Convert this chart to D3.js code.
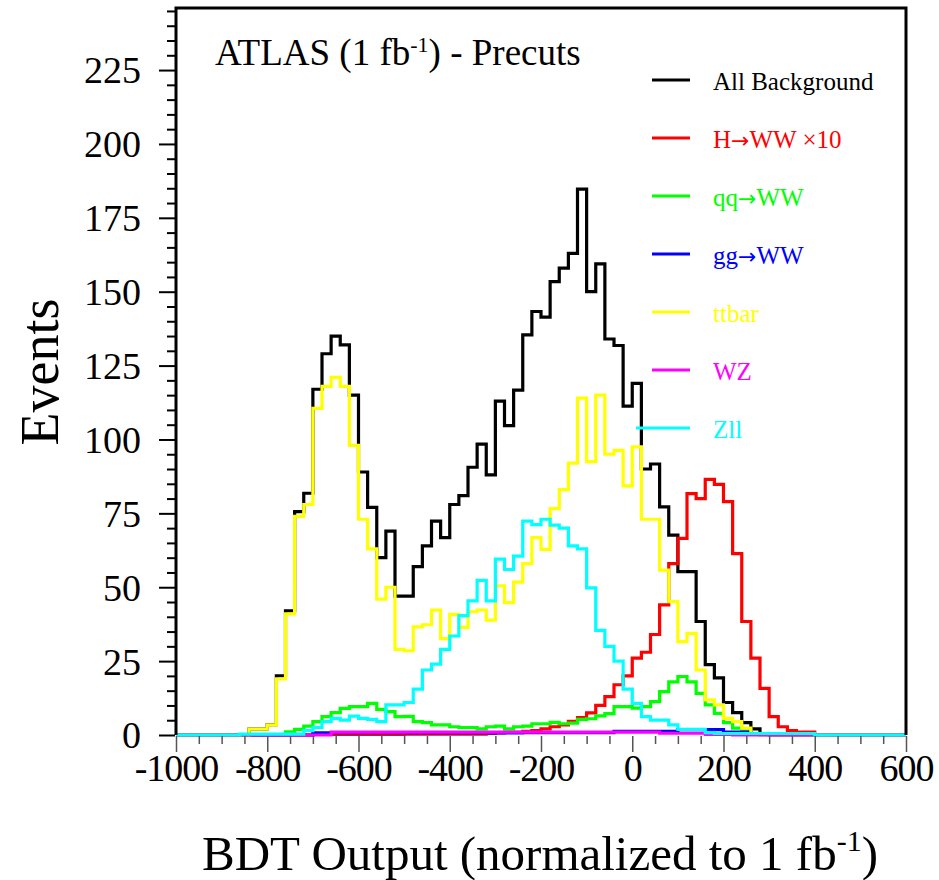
<!DOCTYPE html>
<html>
<head>
<meta charset="utf-8">
<script src="https://cdn.jsdelivr.net/npm/d3@7"></script>
<style>
  body { margin: 0; background: #fff; }
  svg text { font-family: "Liberation Serif", "DejaVu Serif", serif; }
</style>
</head>
<body>
<div id="container"></div>
<script>
// histogram bins: 20 wide, first bin starts at -860
var binStart = -860, binWidth = 20;

var allBackground = [0,2,2,3.5,20,42,75.6,81.8,117,129,135,132,115,89,77,60,69,47,47,57,64,72.4,66.8,78,81,90.6,98.4,88,113,104.7,116.7,135.4,143.3,141.4,153.4,158,163,184.7,150,159.4,134,131.8,111.3,119,90,91.7,77.2,67.6,55.3,55.3,38.4,23.8,19.3,11,7.6,4.2,2.1,0.5,0,0,0,0,0];
var hww = [0,0,0,0,0,0,0,0,0.2,0.2,0.2,0.2,0.2,0.2,0.2,0.2,0.2,0.2,0.3,0.3,0.3,0.3,0.3,0.3,0.3,0.3,0.3,0.5,0.7,0.9,0.9,1.2,1.5,2.1,2.8,3.4,4.6,5.9,7.5,10,13,17,20,26,28,34,44,58,66.5,81.7,80,86.5,84.8,79,61.4,38.4,26,15.8,6.2,2.8,1.5,1,1];
var qqww = [0,0,0,0,0,1.1,1.9,3,4.5,6.2,7.6,9,9.6,9.6,10.7,8.7,7.9,6.2,6.3,4.5,4.2,3.4,3.4,2.8,2.5,2.5,2.1,2.8,3,2.1,2.8,3,3.8,3.8,4.3,3.8,4,5.3,5.5,6.5,7.2,9.6,9.6,9.1,9.6,11.3,14.7,18,19.8,18,14.1,10.2,7.3,4.2,2.3,1.7,0.5,0,0,0,0,0,0];
var ggww = [0,0,0,0,0,0,0,0,0.7,0.7,0.7,0.7,0.7,0.7,0.7,0.7,0.7,0.7,0.7,0.7,0.7,0.7,0.7,0.7,0.7,0.7,0.7,0.7,0.7,0.7,0.7,0.8,0.8,0.8,0.8,0.8,0.8,0.8,0.8,0.8,0.8,1.2,1.2,1.2,1.2,1.2,1.2,1.2,1.8,1.8,1.8,1.8,1.8,1,1,1,0.3,0.3,0,0,0,0,0];
var ttbar = [0,2,2,3.4,19,41,74,78,110.5,118,121,118,98,73,63,46,50,29,28.5,36.6,37.3,42.3,32.6,40.8,36.4,41.7,42.3,38.9,50.5,44.8,51.7,58,66.8,62.8,76.6,83,92,114,92.5,115,95,96.3,84.3,97.5,73,73,55.8,45.1,31.6,34.4,22,11.9,10.2,5.6,4.5,2.3,0.5,0,0,0,0,0,0];
var wz = [0,0,0,0,0,0,0,0,0,0,1,1,1,1,1,1,1,1,1,1,1,1,1,1,1,1,1,1,1,1,1,1,1,1,1,1,1,1,1,1,1,1,1,1,1,1,0.6,0.6,0.6,0.6,0.6,0.2,0.2,0.2,0,0,0,0,0,0,0,0,0];
var zll = [0.3,0.3,0.3,0.3,0.3,0.3,0.3,1.5,2.6,4.5,5.6,5,6.4,5.6,5.3,4.5,10.2,10.2,11,15.5,22,24,29,33.5,40.4,45.4,52.3,45.4,59.5,56,60.5,72.4,71.2,73,71,70,64,63,49.8,35.4,30,25,15.5,10.7,6.2,5,5,3.4,1.9,1.9,1.9,0.8,0.5,0.5,0.5,0.5,0.5,0.5,0.5,0.5,0.5,0.5,0.5];

var seriesNames = ["All Background", "H\u2192WW \u00d710", "qq\u2192WW", "gg\u2192WW", "ttbar", "WZ", "Zll"];
var seriesColors = ["#000000", "#ff0000", "#00ff00", "#0000ff", "#ffff00", "#ff00ff", "#00ffff"];
var seriesValues = [allBackground, hww, qqww, ggww, ttbar, wz, zll];

var xTicks = [-1000, -800, -600, -400, -200, 0, 200, 400, 600];
var yTicks = [0, 25, 50, 75, 100, 125, 150, 175, 200, 225];

var width = 939, height = 880;
var mLeft = 176, mRight = 906, mTop = 8, mBottom = 735;

var svg = d3.select("#container").append("svg")
    .attr("width", width)
    .attr("height", height);

var x = d3.scaleLinear().domain([-1000, 600]).range([mLeft, mRight]);
var y = d3.scaleLinear().domain([0, 246]).range([mBottom, mTop]);

// histograms, padded with zeros over the full range
var line = d3.line()
    .x(function(d) { return x(d[0]); })
    .y(function(d) { return y(d[1]); })
    .curve(d3.curveStepAfter);

seriesValues.forEach(function(vals, s) {
  var pts = [];
  for (var e = -1000; e < binStart; e += binWidth) pts.push([e, 0]);
  vals.forEach(function(v, i) { pts.push([binStart + i * binWidth, v]); });
  var last = binStart + vals.length * binWidth;
  for (var e2 = last; e2 < 600; e2 += binWidth) pts.push([e2, 0]);
  pts.push([600, pts[pts.length - 1][1]]);
  svg.append("path")
      .attr("d", line(pts))
      .attr("fill", "none")
      .attr("stroke", seriesColors[s])
      .attr("stroke-width", 3.2);
});

// frame (bottom edge left to the histograms)
svg.append("path")
    .attr("d", "M" + mLeft + "," + mBottom + "V" + mTop + "H" + mRight + "V" + mBottom)
    .attr("fill", "none").attr("stroke", "#000").attr("stroke-width", 3);

// y axis
var yMinor = d3.range(0, 246, 5).filter(function(v) { return v % 25 !== 0; });
svg.append("g")
    .attr("transform", "translate(" + (mLeft - 1) + ",0)")
    .call(d3.axisLeft(y).tickValues(yMinor).tickSize(8).tickFormat(""))
    .call(function(g) { g.select(".domain").remove(); g.selectAll("line").attr("stroke-width", 2); });
svg.append("g")
    .attr("transform", "translate(" + (mLeft - 1) + ",0)")
    .call(d3.axisLeft(y).tickValues(yTicks).tickSize(16).tickPadding(18))
    .call(function(g) {
      g.select(".domain").remove();
      g.selectAll("line").attr("stroke-width", 2);
      g.selectAll("text").attr("font-size", 38).attr("font-family", "Liberation Serif").attr("dy", "0.34em");
    });

// x axis
var xMinor = d3.range(-1000, 601, 50).filter(function(v) { return v % 200 !== 0; });
svg.append("g")
    .attr("transform", "translate(0," + (mBottom + 1) + ")")
    .call(d3.axisBottom(x).tickValues(xMinor).tickSize(8).tickFormat(""))
    .call(function(g) { g.select(".domain").remove(); g.selectAll("line").attr("stroke", "#555").attr("stroke-width", 1.5); });
svg.append("g")
    .attr("transform", "translate(0," + (mBottom + 1) + ")")
    .call(d3.axisBottom(x).tickValues(xTicks).tickSize(16).tickPadding(2).tickFormat(function(d) { return String(d); }))
    .call(function(g) {
      g.select(".domain").remove();
      g.selectAll("line").attr("stroke", "#555").attr("stroke-width", 1.5);
      g.selectAll("text").attr("font-size", 38).attr("font-family", "Liberation Serif").attr("letter-spacing", -1);
    });

// titles
var t = svg.append("text").attr("x", 215).attr("y", 65).attr("font-size", 37);
t.append("tspan").text("ATLAS (1 fb");
t.append("tspan").attr("dy", -13).attr("font-size", 22).text("-1");
t.append("tspan").attr("dy", 13).text(") - Precuts");

svg.append("text")
    .attr("transform", "translate(58,372) rotate(-90)")
    .attr("text-anchor", "middle")
    .attr("font-size", 54)
    .text("Events");

var xl = svg.append("text").attr("x", 540).attr("y", 870).attr("text-anchor", "middle").attr("font-size", 49);
xl.append("tspan").text("BDT Output (normalized to 1 fb");
xl.append("tspan").attr("dy", -19).attr("font-size", 30).text("-1");
xl.append("tspan").attr("dy", 19).text(")");

// legend
seriesNames.forEach(function(name, i) {
  var ly = 80 + i * 58;
  svg.append("line")
      .attr("x1", i === 6 ? 636 : 652).attr("x2", 690)
      .attr("y1", ly).attr("y2", ly)
      .attr("stroke", seriesColors[i]).attr("stroke-width", 3);
  var parts = name.split("\u2192");
  var txt = svg.append("text")
      .attr("x", 713).attr("y", ly + 10)
      .attr("font-size", 25)
      .attr("fill", seriesColors[i]);
  parts.forEach(function(p, k) {
    if (k > 0) txt.append("tspan").attr("font-family", "DejaVu Sans").attr("font-size", 22).text("\u2192");
    txt.append("tspan").text(p);
  });
});
</script>
</body>
</html>
